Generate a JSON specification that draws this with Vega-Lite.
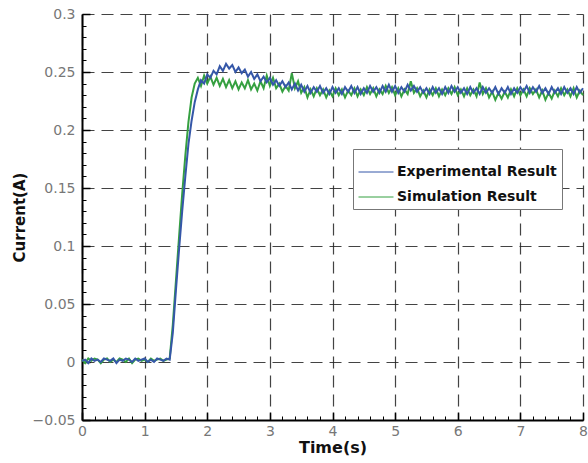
{
"$schema": "https://vega.github.io/schema/vega-lite/v6.json",
"width": 501, "height": 406,
"autosize": {"type": "none"},
"padding": {"left": 82, "top": 14, "right": 5, "bottom": 43},
"background": "white",
"config": {"view": {"stroke": null}, "font": "DejaVu Sans"},
"data": {"values": [
{"t":0.00,"e":0.001,"s":0.002},{"t":0.05,"e":0.002,"s":-0.001},{"t":0.10,"e":-0.001,"s":0.003},{"t":0.15,"e":0.003,"s":0.001},
{"t":0.20,"e":0.001,"s":0.003},{"t":0.25,"e":0.002,"s":0.002},{"t":0.30,"e":0.000,"s":-0.001},{"t":0.35,"e":0.003,"s":0.002},
{"t":0.40,"e":0.002,"s":0.003},{"t":0.45,"e":0.001,"s":0.000},{"t":0.50,"e":0.003,"s":0.002},{"t":0.55,"e":-0.001,"s":0.000},
{"t":0.60,"e":0.002,"s":0.003},{"t":0.65,"e":0.001,"s":0.002},{"t":0.70,"e":0.003,"s":0.000},{"t":0.75,"e":0.002,"s":0.003},
{"t":0.80,"e":0.000,"s":-0.001},{"t":0.85,"e":0.003,"s":0.002},{"t":0.90,"e":0.001,"s":0.003},{"t":0.95,"e":0.002,"s":0.001},
{"t":1.00,"e":0.003,"s":0.002},{"t":1.05,"e":0.000,"s":0.000},{"t":1.10,"e":0.002,"s":0.003},{"t":1.15,"e":0.000,"s":0.001},
{"t":1.20,"e":0.003,"s":0.002},{"t":1.25,"e":0.002,"s":0.003},{"t":1.30,"e":0.001,"s":0.001},{"t":1.35,"e":0.003,"s":0.002},
{"t":1.40,"e":0.002,"s":0.003},{"t":1.45,"e":0.025,"s":0.032},{"t":1.50,"e":0.062,"s":0.070},{"t":1.55,"e":0.097,"s":0.108},
{"t":1.60,"e":0.130,"s":0.145},{"t":1.65,"e":0.160,"s":0.178},{"t":1.70,"e":0.188,"s":0.207},{"t":1.75,"e":0.208,"s":0.228},
{"t":1.80,"e":0.224,"s":0.240},
{"t":1.85,"e":0.235,"s":0.245},{"t":1.90,"e":0.243,"s":0.238},{"t":1.95,"e":0.240,"s":0.247},{"t":2.00,"e":0.248,"s":0.240},
{"t":2.05,"e":0.245,"s":0.246},{"t":2.10,"e":0.251,"s":0.239},{"t":2.15,"e":0.248,"s":0.245},{"t":2.20,"e":0.255,"s":0.238},
{"t":2.25,"e":0.251,"s":0.244},{"t":2.30,"e":0.257,"s":0.237},{"t":2.35,"e":0.253,"s":0.243},{"t":2.40,"e":0.256,"s":0.236},
{"t":2.45,"e":0.250,"s":0.242},{"t":2.50,"e":0.254,"s":0.235},{"t":2.55,"e":0.249,"s":0.241},{"t":2.60,"e":0.252,"s":0.236},
{"t":2.65,"e":0.246,"s":0.243},{"t":2.70,"e":0.250,"s":0.235},{"t":2.75,"e":0.244,"s":0.240},{"t":2.80,"e":0.248,"s":0.234},
{"t":2.85,"e":0.242,"s":0.242},{"t":2.90,"e":0.246,"s":0.236},{"t":2.95,"e":0.241,"s":0.247},{"t":3.00,"e":0.245,"s":0.238},
{"t":3.05,"e":0.239,"s":0.245},{"t":3.10,"e":0.243,"s":0.236},{"t":3.15,"e":0.238,"s":0.240},{"t":3.20,"e":0.242,"s":0.233},
{"t":3.25,"e":0.237,"s":0.238},{"t":3.30,"e":0.241,"s":0.234},{"t":3.35,"e":0.235,"s":0.249},{"t":3.40,"e":0.240,"s":0.236},
{"t":3.45,"e":0.234,"s":0.242},{"t":3.50,"e":0.239,"s":0.232},{"t":3.55,"e":0.233,"s":0.237},{"t":3.60,"e":0.238,"s":0.228},
{"t":3.65,"e":0.232,"s":0.235},{"t":3.70,"e":0.237,"s":0.229},{"t":3.75,"e":0.233,"s":0.236},{"t":3.80,"e":0.238,"s":0.230},
{"t":3.85,"e":0.232,"s":0.235},{"t":3.90,"e":0.236,"s":0.228},{"t":3.95,"e":0.231,"s":0.234},{"t":4.00,"e":0.237,"s":0.229},
{"t":4.05,"e":0.232,"s":0.236},{"t":4.10,"e":0.236,"s":0.230},{"t":4.15,"e":0.231,"s":0.235},{"t":4.20,"e":0.237,"s":0.228},
{"t":4.25,"e":0.233,"s":0.234},{"t":4.30,"e":0.238,"s":0.230},{"t":4.35,"e":0.232,"s":0.236},{"t":4.40,"e":0.237,"s":0.229},
{"t":4.45,"e":0.231,"s":0.235},{"t":4.50,"e":0.236,"s":0.230},{"t":4.55,"e":0.232,"s":0.237},{"t":4.60,"e":0.238,"s":0.231},
{"t":4.65,"e":0.233,"s":0.236},{"t":4.70,"e":0.237,"s":0.229},{"t":4.75,"e":0.232,"s":0.235},{"t":4.80,"e":0.238,"s":0.231},
{"t":4.85,"e":0.233,"s":0.238},{"t":4.90,"e":0.239,"s":0.232},{"t":4.95,"e":0.233,"s":0.237},{"t":5.00,"e":0.238,"s":0.230},
{"t":5.05,"e":0.232,"s":0.236},{"t":5.10,"e":0.237,"s":0.229},{"t":5.15,"e":0.233,"s":0.235},{"t":5.20,"e":0.239,"s":0.231},
{"t":5.25,"e":0.234,"s":0.242},{"t":5.30,"e":0.238,"s":0.232},{"t":5.35,"e":0.233,"s":0.236},{"t":5.40,"e":0.237,"s":0.229},
{"t":5.45,"e":0.232,"s":0.234},{"t":5.50,"e":0.236,"s":0.228},{"t":5.55,"e":0.231,"s":0.235},{"t":5.60,"e":0.237,"s":0.230},
{"t":5.65,"e":0.232,"s":0.236},{"t":5.70,"e":0.236,"s":0.229},{"t":5.75,"e":0.231,"s":0.235},{"t":5.80,"e":0.237,"s":0.230},
{"t":5.85,"e":0.232,"s":0.236},{"t":5.90,"e":0.238,"s":0.231},{"t":5.95,"e":0.233,"s":0.237},{"t":6.00,"e":0.237,"s":0.230},
{"t":6.05,"e":0.232,"s":0.235},{"t":6.10,"e":0.236,"s":0.229},{"t":6.15,"e":0.231,"s":0.236},{"t":6.20,"e":0.237,"s":0.230},
{"t":6.25,"e":0.232,"s":0.235},{"t":6.30,"e":0.236,"s":0.229},{"t":6.35,"e":0.231,"s":0.241},{"t":6.40,"e":0.237,"s":0.231},
{"t":6.45,"e":0.232,"s":0.236},{"t":6.50,"e":0.236,"s":0.228},{"t":6.55,"e":0.232,"s":0.233},{"t":6.60,"e":0.237,"s":0.226},
{"t":6.65,"e":0.231,"s":0.232},{"t":6.70,"e":0.236,"s":0.227},{"t":6.75,"e":0.232,"s":0.233},{"t":6.80,"e":0.237,"s":0.228},
{"t":6.85,"e":0.231,"s":0.235},{"t":6.90,"e":0.236,"s":0.229},{"t":6.95,"e":0.232,"s":0.236},{"t":7.00,"e":0.237,"s":0.230},
{"t":7.05,"e":0.233,"s":0.235},{"t":7.10,"e":0.238,"s":0.229},{"t":7.15,"e":0.232,"s":0.236},{"t":7.20,"e":0.237,"s":0.231},
{"t":7.25,"e":0.233,"s":0.235},{"t":7.30,"e":0.238,"s":0.228},{"t":7.35,"e":0.232,"s":0.234},{"t":7.40,"e":0.236,"s":0.226},
{"t":7.45,"e":0.231,"s":0.232},{"t":7.50,"e":0.237,"s":0.227},{"t":7.55,"e":0.232,"s":0.234},{"t":7.60,"e":0.236,"s":0.229},
{"t":7.65,"e":0.231,"s":0.236},{"t":7.70,"e":0.237,"s":0.230},{"t":7.75,"e":0.232,"s":0.235},{"t":7.80,"e":0.236,"s":0.229},
{"t":7.85,"e":0.231,"s":0.236},{"t":7.90,"e":0.237,"s":0.228},{"t":7.95,"e":0.232,"s":0.234},{"t":8.00,"e":0.236,"s":0.230}
]},
"transform": [{"fold": ["s", "e"], "as": ["series", "current"]}],
"layer": [
{
"mark": {"type": "line", "strokeWidth": 2},
"encoding": {
"x": {"field": "t", "type": "quantitative",
"scale": {"domain": [0, 8], "nice": false, "zero": false},
"axis": {"orient": "bottom", "values": [0,1,2,3,4,5,6,7,8], "title": "Time(s)",
"grid": true, "gridDash": [12, 7], "gridColor": "#222", "gridWidth": 1.2, "gridOpacity": 0.85,
"tickSize": -8, "tickColor": "#000", "tickWidth": 1.5,
"domainColor": "#000", "domainWidth": 2,
"labelFont": "DejaVu Sans", "labelFontSize": 14, "labelColor": "#777", "labelPadding": 12, "labelFlush": false,
"titleFont": "DejaVu Sans", "titleFontSize": 16, "titleFontWeight": "bold", "titleColor": "#111", "titlePadding": 1}},
"y": {"field": "current", "type": "quantitative",
"scale": {"domain": [-0.05, 0.3], "nice": false, "zero": false},
"axis": {"orient": "left", "values": [-0.05,0,0.05,0.1,0.15,0.2,0.25,0.3], "format": "~g", "title": "Current(A)",
"grid": true, "gridDash": [12, 7], "gridColor": "#222", "gridWidth": 1.2, "gridOpacity": 0.85,
"tickSize": -8, "tickColor": "#000", "tickWidth": 1.5,
"domainColor": "#000", "domainWidth": 2,
"labelFont": "DejaVu Sans", "labelFontSize": 14, "labelColor": "#777", "labelPadding": 15, "labelFlush": false,
"titleFont": "DejaVu Sans", "titleFontSize": 15, "titleFontWeight": "bold", "titleColor": "#111", "titlePadding": 5}},
"color": {"field": "series", "type": "nominal",
"scale": {"domain": ["e", "s"], "range": ["#3557a8", "#35a040"]},
"legend": {"orient": "none", "legendX": 271, "legendY": 135, "title": null,
"labelExpr": "datum.value == 'e' ? 'Experimental Result' : 'Simulation Result'",
"labelFont": "DejaVu Sans", "labelFontSize": 14, "labelFontWeight": "bold", "labelColor": "#111",
"symbolType": "stroke", "symbolSize": 1225, "symbolStrokeWidth": 1, "labelOffset": 3,
"rowPadding": 0, "padding": 5, "fillColor": "white", "strokeColor": "#777", "cornerRadius": 0}}
}
},
{
"mark": {"type": "point", "opacity": 0},
"encoding": {
"x": {"field": "t", "type": "quantitative",
"axis": {"orient": "bottom", "values": [0.2,0.4,0.6,0.8,1.2,1.4,1.6,1.8,2.2,2.4,2.6,2.8,3.2,3.4,3.6,3.8,4.2,4.4,4.6,4.8,5.2,5.4,5.6,5.8,6.2,6.4,6.6,6.8,7.2,7.4,7.6,7.8],
"labels": false, "domain": false, "grid": false, "title": null, "tickSize": -4, "tickColor": "#000", "tickWidth": 1}},
"y": {"field": "current", "type": "quantitative",
"axis": {"orient": "left", "values": [-0.04,-0.03,-0.02,-0.01,0.01,0.02,0.03,0.04,0.06,0.07,0.08,0.09,0.11,0.12,0.13,0.14,0.16,0.17,0.18,0.19,0.21,0.22,0.23,0.24,0.26,0.27,0.28,0.29],
"labels": false, "domain": false, "grid": false, "title": null, "tickSize": -4, "tickColor": "#000", "tickWidth": 1}}
}
}
],
"resolve": {"axis": {"x": "independent", "y": "independent"}}
}
